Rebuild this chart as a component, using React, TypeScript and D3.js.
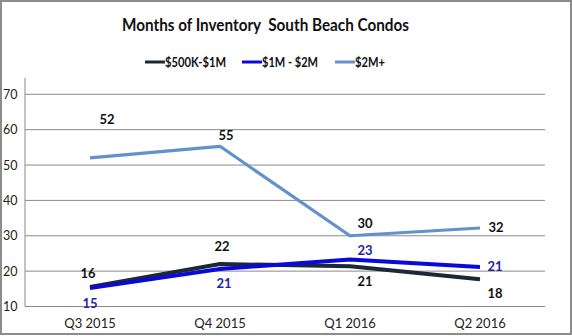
import React from "react";
import * as d3 from "d3";

const categories = ["Q3 2015", "Q4 2015", "Q1 2016", "Q2 2016"];
const seriesNames = ["$500K-$1M", "$1M - $2M", "$2M+"];
const lowValues = [15.5, 22.0, 21.4, 17.7];
const midValues = [15.2, 20.6, 23.3, 21.2];
const highValues = [52.0, 55.3, 30.0, 32.2];
const yTicks = [10, 20, 30, 40, 50, 60, 70];

const W = 572;
const H = 336;
const left = 25;
const right = 545;
const yBottom = 306.5;
const yTop = 94.3;

const styles = [
  { color: "#1b2838", width: 4, label: "#111111", offsets: [[-2, -14], [2, -18], [15, 15], [15, 14]] },
  { color: "#0a0ad8", width: 4, label: "#2323a8", offsets: [[0, 15], [4, 14], [15, -9], [15, 0]] },
  { color: "#6192cc", width: 3.2, label: "#111111", offsets: [[17, -38], [6, -11], [15, -12], [16, 0]] },
];

export default function App() {
  const x = d3.scaleBand<string>().domain(categories).range([left, right]);
  const y = d3.scaleLinear().domain([10, 70]).range([yBottom, yTop]);
  const cx = (c: string) => (x(c) as number) + x.bandwidth() / 2;
  const all = [lowValues, midValues, highValues];
  const line = d3
    .line<number>()
    .x((_, i) => cx(categories[i]))
    .y((d) => y(d));
  const font = "Lato, 'Open Sans', sans-serif";

  const legendItems = [
    { x: 145, w: 20, tl: 61 },
    { x: 242, w: 20, tl: 56 },
    { x: 335, w: 20, tl: 30 },
  ];

  return (
    <svg
      width={W}
      height={H}
      style={{ position: "absolute", left: 0, top: 0, background: "#fff" }}
      fontFamily={font}
    >
      <rect x={1} y={1} width={W - 2} height={H - 3} fill="#fff" stroke="#8c8c8c" strokeWidth={2} />
      <text
        x={122}
        y={31}
        fontSize={16.5}
        fontWeight="bold"
        fill="#111"
        textLength={287}
        lengthAdjust="spacingAndGlyphs"
        style={{ whiteSpace: "pre" }}
      >
        {"Months of Inventory  South Beach Condos"}
      </text>
      {seriesNames.map((n, i) => (
        <g key={n}>
          <line
            x1={legendItems[i].x}
            x2={legendItems[i].x + legendItems[i].w}
            y1={62}
            y2={62}
            stroke={styles[i].color}
            strokeWidth={3}
          />
          <text
            x={legendItems[i].x + legendItems[i].w}
            y={66.5}
            fontSize={13}
            fontWeight="bold"
            fill="#111"
            textLength={legendItems[i].tl}
            lengthAdjust="spacingAndGlyphs"
          >
            {n}
          </text>
        </g>
      ))}
      {yTicks.map((t) => (
        <g key={t}>
          <line x1={left} x2={right} y1={y(t)} y2={y(t)} stroke="#8a8a8a" strokeWidth={1} />
          <text x={3} y={y(t) + 4.5} fontSize={12.5} fill="#222">
            {t}
          </text>
        </g>
      ))}
      <line x1={left} x2={left} y1={y(70) - 16.5} y2={yBottom} stroke="#8a8a8a" strokeWidth={1} />
      {categories.map((c) => (
        <text key={c} x={cx(c)} y={328} textAnchor="middle" fontSize={13} fill="#222">
          {c}
        </text>
      ))}
      {all.map((vals, si) => (
        <path
          key={si}
          d={line(vals) as string}
          fill="none"
          stroke={styles[si].color}
          strokeWidth={styles[si].width}
          strokeLinejoin="round"
        />
      ))}
      {all.map((vals, si) =>
        vals.map((v, i) => (
          <text
            key={`${si}-${i}`}
            x={cx(categories[i]) + styles[si].offsets[i][0]}
            y={y(v) + styles[si].offsets[i][1] + 4.5}
            textAnchor="middle"
            fontSize={13}
            fontWeight="bold"
            fill={styles[si].label}
          >
            {Math.round(v)}
          </text>
        ))
      )}
    </svg>
  );
}
